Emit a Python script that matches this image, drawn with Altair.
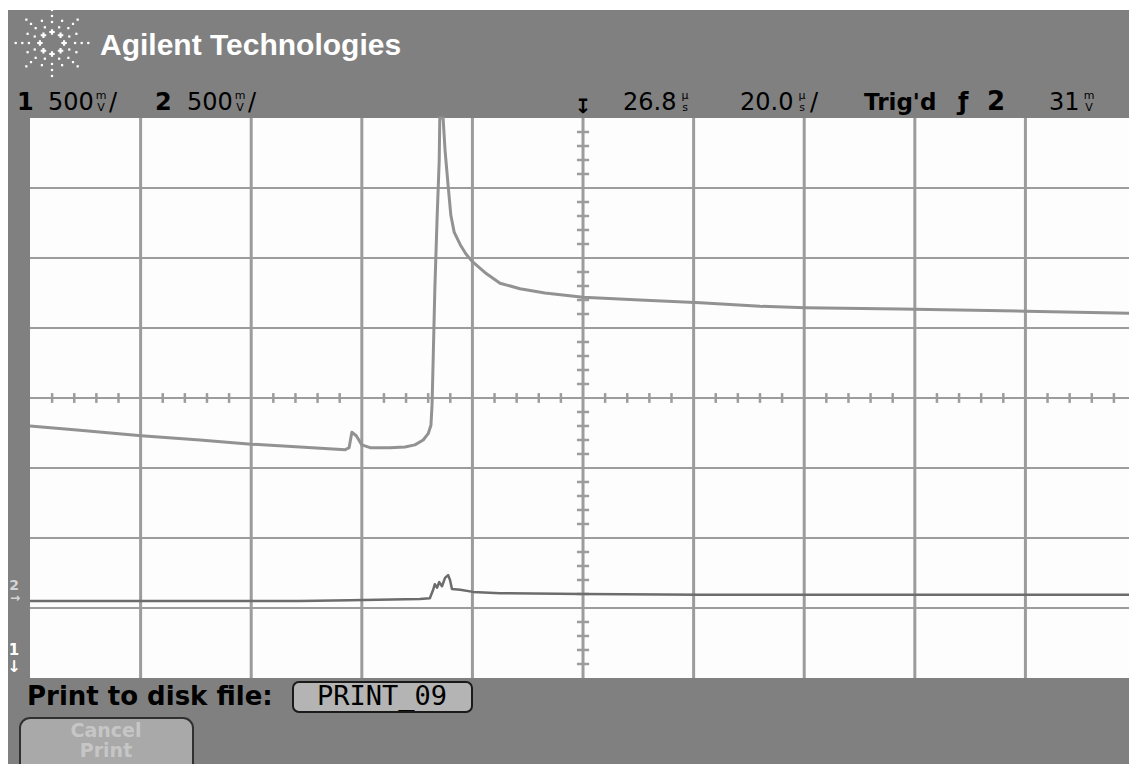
import math
import altair as alt
import pandas as pd

# ---------------- data read from the screen ----------------
# channel 1 (upper trace): time in microseconds, position in vertical divisions
ch1_t = [-73.2, -64.2, -53.1, -42.5, -33.2, -24.4, -16.2, -15.5, -15.0, -14.2, -13.2,
         -11.7, -8.1, -5.4, -3.6, -2.1, -1.2, -0.7, -0.5, -0.3, 0.0, 0.4, 0.8, 0.9,
         1.5, 1.85, 2.4, 2.9, 3.5, 4.6, 5.6, 6.9, 9.1, 11.8, 15.4, 19.9, 26.8, 37.1,
         48.0, 58.8, 67.0, 84.1, 106.9, 127.0]
ch1_v = [-0.40, -0.46, -0.54, -0.60, -0.66, -0.70, -0.74, -0.71, -0.49, -0.54, -0.67,
         -0.71, -0.71, -0.70, -0.67, -0.60, -0.51, -0.39, -0.10, 0.54, 1.54, 2.54, 3.40, 4.0,
         4.0, 3.54, 3.04, 2.61, 2.37, 2.19, 2.06, 1.94, 1.79, 1.64, 1.56, 1.50, 1.44, 1.40,
         1.36, 1.31, 1.29, 1.27, 1.24, 1.21]

# channel 2 (lower trace)
ch2_t = [-73.2, -60.5, -42.5, -24.4, -15.3, -2.7, -0.9, -0.3, 0.0, 0.4, 0.8, 1.3, 1.85,
         2.4, 2.75, 3.1, 4.6, 6.9, 11.8, 26.8, 48.0, 84.1, 127.0]
ch2_v = [-2.90, -2.90, -2.90, -2.90, -2.89, -2.87, -2.86, -2.74, -2.66, -2.71, -2.63, -2.69,
         -2.57, -2.53, -2.60, -2.73, -2.74, -2.77, -2.79, -2.80, -2.81, -2.81, -2.81]

DELAY_US = 26.8
TIMEBASE_US = 20.0
X_DIVS = 10
Y_DIVS = 8

# ---------------- layout ----------------
W, H = 1121, 754
X_DOMAIN = [-77.18, 125.53]
Y_DOMAIN = [-5.229, 5.543]
PX_X = [8, 1129]
PX_Y = [10, 764]

t_left = DELAY_US - X_DIVS / 2 * TIMEBASE_US
t_right = DELAY_US + X_DIVS / 2 * TIMEBASE_US
vgrid = [t_left + k * TIMEBASE_US for k in range(1, X_DIVS)]
hgrid = list(range(-3, 4))
hticks = [t_left + j * TIMEBASE_US / 5 for j in range(1, X_DIVS * 5) if j % 5]
vticks = [-4 + j * 0.2 for j in range(1, Y_DIVS * 5) if j % 5]

xs = alt.Scale(domain=X_DOMAIN, nice=False, zero=False)
ys = alt.Scale(domain=Y_DOMAIN, nice=False, zero=False)
pxs = alt.Scale(domain=PX_X, nice=False, zero=False)
pys = alt.Scale(domain=PX_Y, nice=False, zero=False, reverse=True)

one = pd.DataFrame({"k": [0]})

layers = []

# gray instrument frame
layers.append(alt.Chart(one).mark_rect(color="#808080").encode(
    x=alt.value(0), x2=alt.value(W), y=alt.value(0), y2=alt.value(H)))

# white graticule area
layers.append(alt.Chart(pd.DataFrame({"t0": [t_left], "t1": [t_right + 5], "d0": [-4], "d1": [4]}))
              .mark_rect(color="#fdfdfd").encode(
    x=alt.X("t0:Q", scale=xs, axis=None), x2="t1:Q",
    y=alt.Y("d0:Q", scale=ys, axis=None), y2="d1:Q"))

# vertical grid lines
layers.append(alt.Chart(pd.DataFrame({"t": vgrid, "lo": -4, "hi": 4}))
              .mark_rule(color="#9c9c9c", strokeWidth=3).encode(
    x=alt.X("t:Q", scale=xs, axis=None),
    y=alt.Y("lo:Q", scale=ys, axis=None), y2="hi:Q"))

# horizontal grid lines
layers.append(alt.Chart(pd.DataFrame({"d": hgrid, "t0": t_left, "t1": t_right + 5}))
              .mark_rule(color="#9c9c9c", strokeWidth=2).encode(
    x=alt.X("t0:Q", scale=xs, axis=None), x2="t1:Q",
    y=alt.Y("d:Q", scale=ys, axis=None)))

# minor ticks on the horizontal centre line
layers.append(alt.Chart(pd.DataFrame({"t": hticks, "lo": -0.07, "hi": 0.07}))
              .mark_rule(color="#9c9c9c", strokeWidth=2.5).encode(
    x=alt.X("t:Q", scale=xs, axis=None),
    y=alt.Y("lo:Q", scale=ys, axis=None), y2="hi:Q"))

# minor ticks on the vertical centre line
layers.append(alt.Chart(pd.DataFrame({"d": vticks, "t0": DELAY_US - 1.1, "t1": DELAY_US + 1.1}))
              .mark_rule(color="#9c9c9c", strokeWidth=2.5).encode(
    x=alt.X("t0:Q", scale=xs, axis=None), x2="t1:Q",
    y=alt.Y("d:Q", scale=ys, axis=None)))

# traces
layers.append(alt.Chart(pd.DataFrame({"t": ch2_t, "v": ch2_v}))
              .mark_line(color="#6c6c6c", strokeWidth=2.5, strokeJoin="round").encode(
    x=alt.X("t:Q", scale=xs, axis=None), y=alt.Y("v:Q", scale=ys, axis=None)))
layers.append(alt.Chart(pd.DataFrame({"t": ch1_t, "v": ch1_v}))
              .mark_line(color="#929292", strokeWidth=3, strokeJoin="round").encode(
    x=alt.X("t:Q", scale=xs, axis=None), y=alt.Y("v:Q", scale=ys, axis=None)))

# Agilent spark logo (decoration)
cx, cy = 52, 43
dots, crosses = [], []
for k in range(8):
    a = math.radians(k * 45)
    for r in (21, 27, 33):
        dots.append((cx + 1.1 * r * math.cos(a), cy + r * math.sin(a)))
    crosses.append((cx + 1.1 * 11 * math.cos(a), cy + 11 * math.sin(a)))
for k in range(8):
    a = math.radians(22.5 + k * 45)
    for r in (17, 24):
        dots.append((cx + 1.1 * r * math.cos(a), cy + r * math.sin(a)))
layers.append(alt.Chart(pd.DataFrame(dots, columns=["px", "py"]))
              .mark_point(shape="square", filled=True, color="white", size=5, opacity=1).encode(
    x=alt.X("px:Q", scale=pxs, axis=None), y=alt.Y("py:Q", scale=pys, axis=None)))
layers.append(alt.Chart(pd.DataFrame(crosses, columns=["px", "py"]))
              .mark_point(shape="cross", filled=True, color="white", size=30, opacity=1).encode(
    x=alt.X("px:Q", scale=pxs, axis=None), y=alt.Y("py:Q", scale=pys, axis=None)))


def txt(s, x, y, size, color="#000000", bold=False, align="left", font="DejaVu Sans"):
    return alt.Chart(one).mark_text(
        text=s, fontSize=size, font=font, fontWeight="bold" if bold else "normal",
        color=color, align=align, baseline="alphabetic").encode(x=alt.value(x), y=alt.value(y))


def unit(top, bottom, x):
    return [txt(top, x, 89, 11, align="center"), txt(bottom, x, 101, 11, align="center")]


layers.append(txt("Agilent Technologies", 92, 45, 30, color="white", bold=True, font="Liberation Sans"))

# left header
layers.append(txt("1", 9, 100, 24, bold=True))
layers.append(txt("500", 40, 100, 24))
layers += unit("m", "V", 93)
layers.append(txt("/", 101, 100, 24))
layers.append(txt("2", 147, 100, 24, bold=True))
layers.append(txt("500", 179, 100, 24))
layers += unit("m", "V", 232)
layers.append(txt("/", 240, 100, 24))

# right header
layers.append(txt("↧", 575, 103, 20, align="center", bold=True))
layers.append(txt("26.8", 615, 100, 24))
layers += unit("μ", "s", 677)
layers.append(txt("20.0", 732, 100, 24))
layers += unit("μ", "s", 794)
layers.append(txt("/", 802, 100, 24))
layers.append(txt("Trig'd", 856, 100, 23, bold=True))
layers.append(txt("ƒ", 950, 100, 24, bold=True))
layers.append(txt("2", 979, 100, 26, bold=True))
layers.append(txt("31", 1041, 100, 24))
layers += unit("m", "V", 1081)

# left-edge channel markers
layers.append(txt("2", 6, 580, 14, color="#d4d4d4", bold=True, align="center"))
layers.append(txt("→", 7, 592, 12, color="#d4d4d4", bold=True, align="center"))
layers.append(txt("1", 6, 645, 15, color="white", bold=True, align="center"))
layers.append(txt("↓", 6, 662, 16, color="white", bold=True, align="center"))

# footer
layers.append(txt("Print to disk file:", 19, 695, 26, bold=True))
layers.append(alt.Chart(one).mark_rect(fill="#b4b4b4", stroke="#1a1a1a", strokeWidth=2, cornerRadius=6)
              .encode(x=alt.value(285), x2=alt.value(464), y=alt.value(672), y2=alt.value(702)))
layers.append(txt("PRINT_09", 374, 695, 27, align="center", font="DejaVu Sans Mono"))
layers.append(alt.Chart(one).mark_rect(fill="#a9a9a9", stroke="#303030", strokeWidth=2, cornerRadius=10)
              .encode(x=alt.value(12), x2=alt.value(185), y=alt.value(708), y2=alt.value(790)))
layers.append(txt("Cancel", 98, 727, 19, color="#c6c6c6", bold=True, align="center"))
layers.append(txt("Print", 98, 747, 19, color="#c6c6c6", bold=True, align="center"))

chart = (
    alt.layer(*layers)
    .resolve_scale(x="independent", y="independent")
    .properties(
        width=W, height=H,
        autosize=alt.AutoSizeParams(type="none"),
        padding={"left": 0, "top": 2, "right": 0, "bottom": 0},
        background="white",
    )
    .configure_view(stroke=None)
)

chart.save("out.html", embed_options={"renderer": "svg", "actions": False})
